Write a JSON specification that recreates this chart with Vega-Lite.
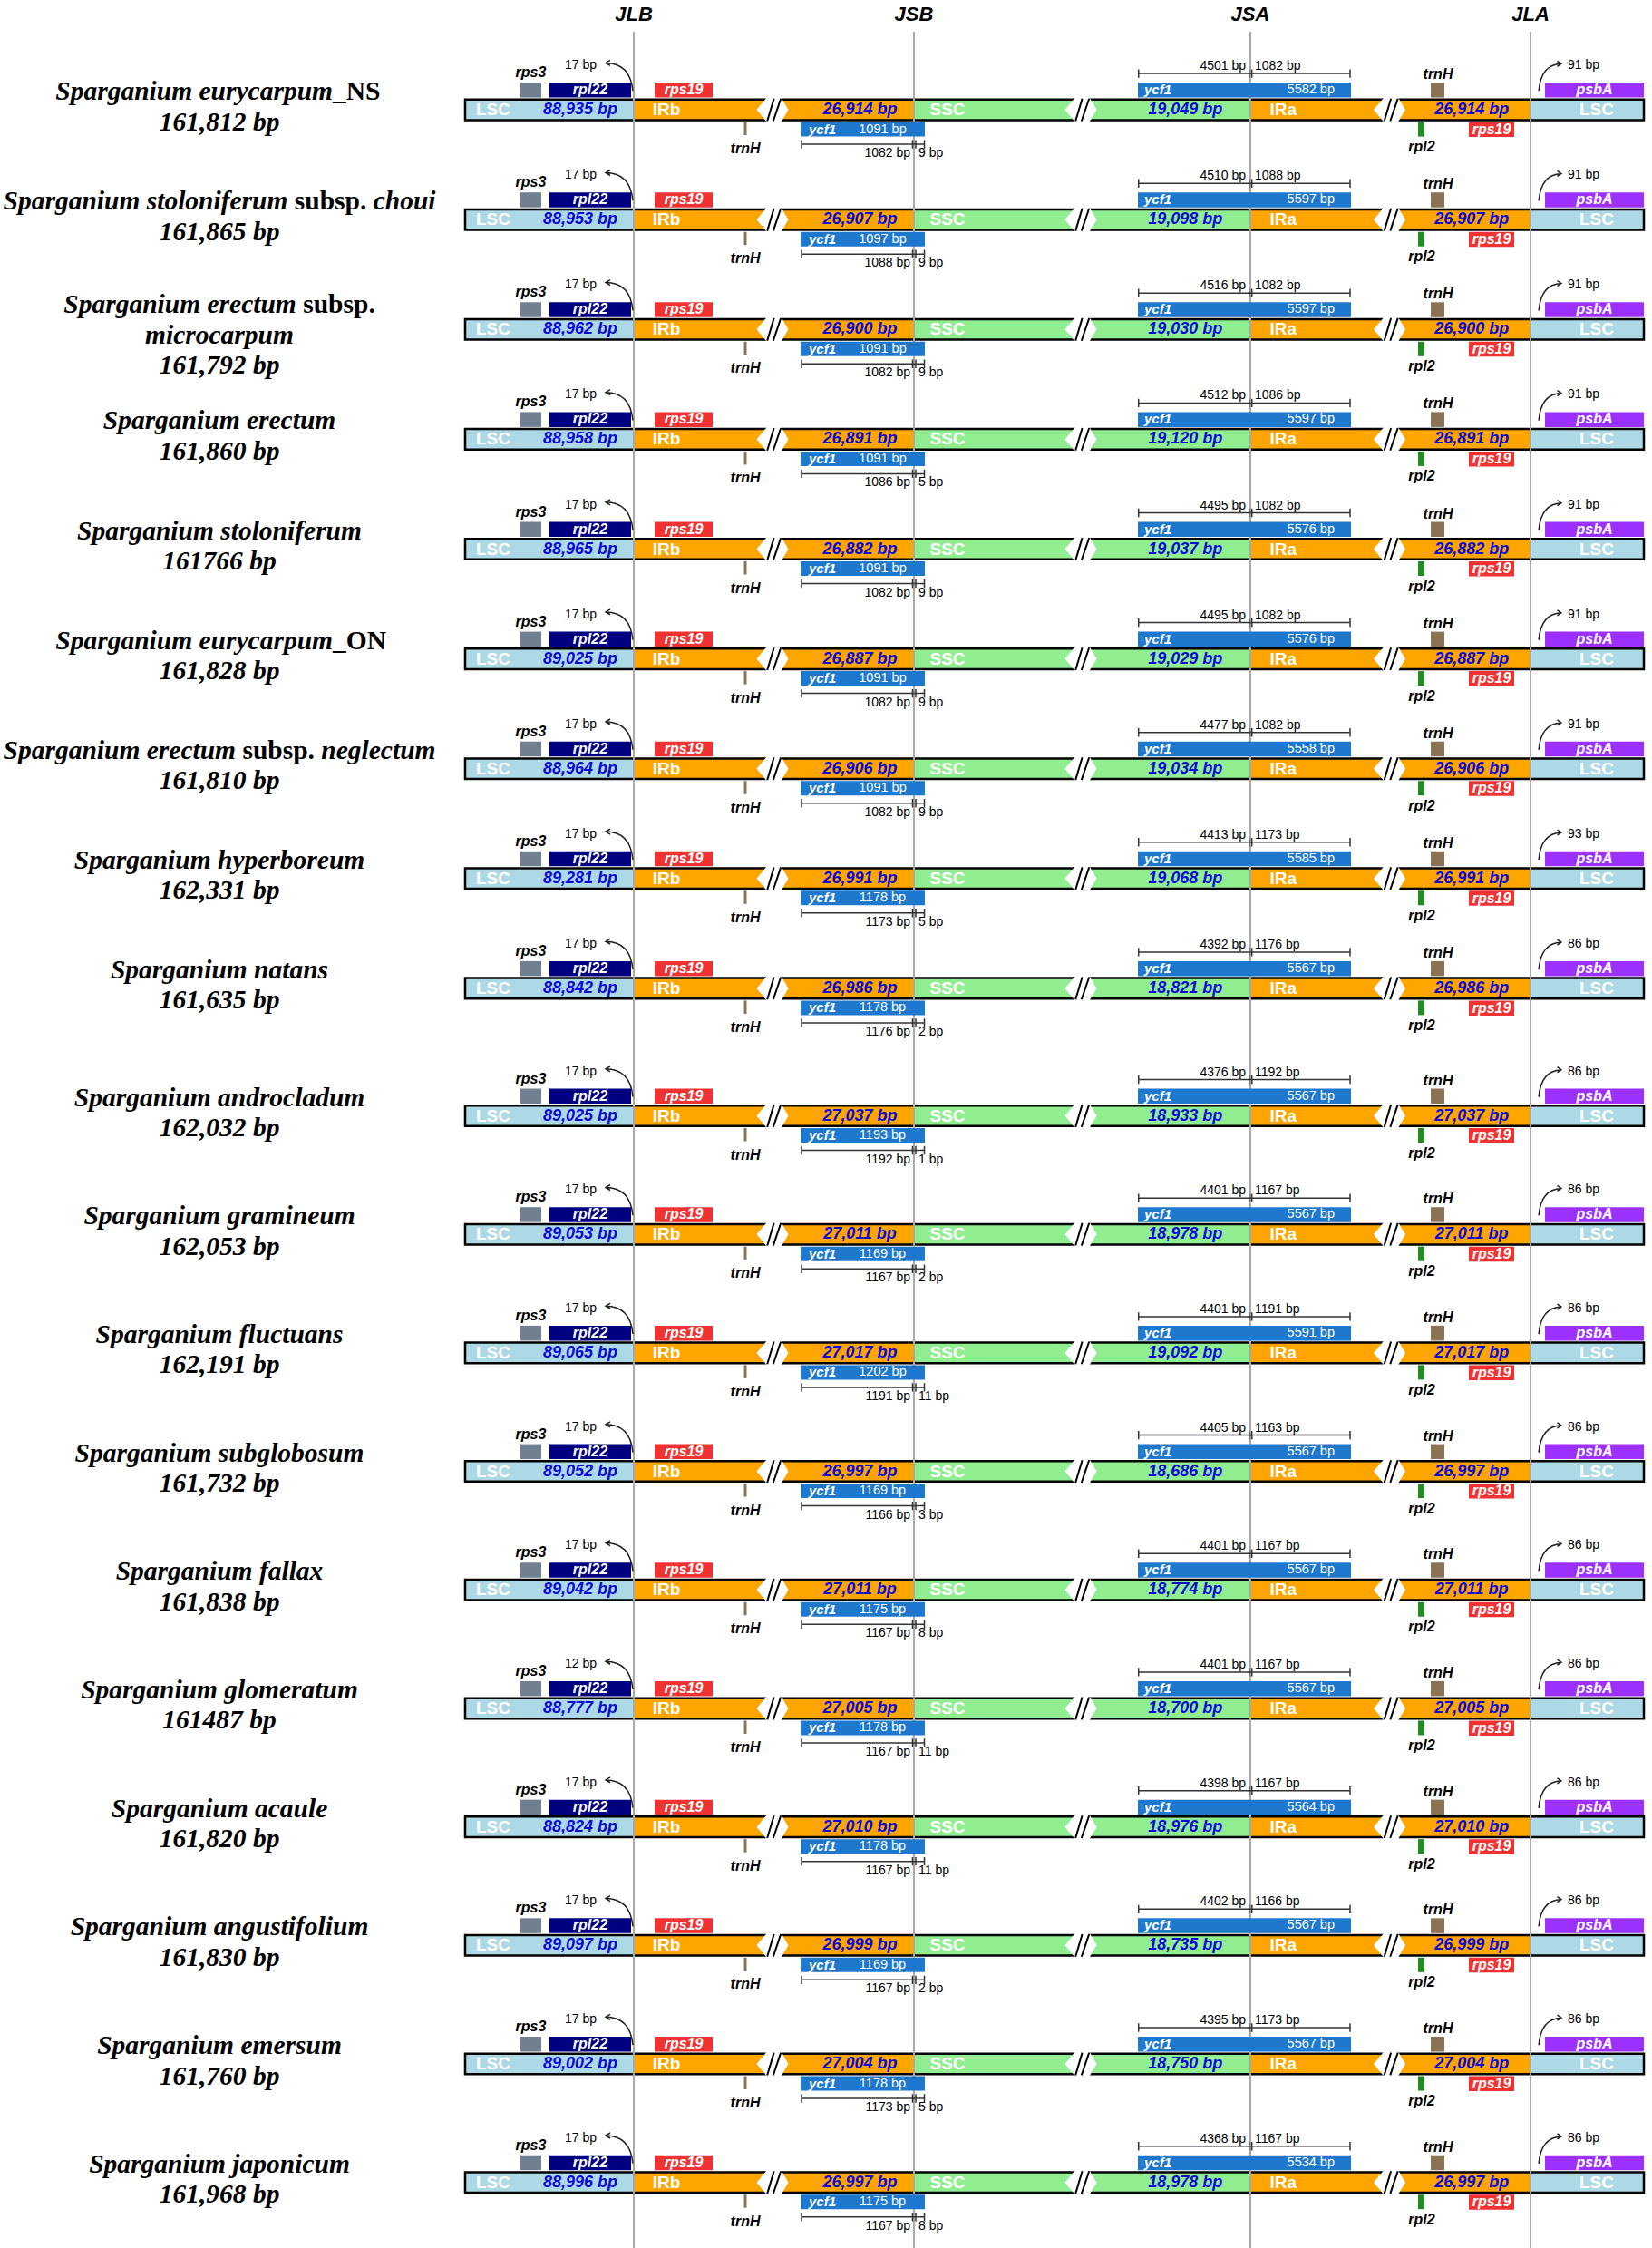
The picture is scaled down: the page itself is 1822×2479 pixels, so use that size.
{
"$schema":"https://vega.github.io/schema/vega-lite/v6.json",
"width":1822,"height":2479,"padding":0,"autosize":{"type":"none"},"background":"white",
"config":{"view":{"stroke":null}},
"datasets":{
"genomes":[
{"n":1,"taxon":"Sparganium eurycarpum","rank":"_NS","length":"161,812 bp","LSC":"88,935 bp","IR":"26,914 bp","SSC":"19,049 bp","rpl22gap":"17 bp","frag":"1091 bp","irb":"1082 bp","sscb":"9 bp","ssca":"4501 bp","ira":"1082 bp","ycf1":"5582 bp","psbAgap":"91 bp"},
{"n":2,"taxon":"Sparganium stoloniferum","rank":"subsp.","infra":"choui","length":"161,865 bp","LSC":"88,953 bp","IR":"26,907 bp","SSC":"19,098 bp","rpl22gap":"17 bp","frag":"1097 bp","irb":"1088 bp","sscb":"9 bp","ssca":"4510 bp","ira":"1088 bp","ycf1":"5597 bp","psbAgap":"91 bp"},
{"n":3,"taxon":"Sparganium erectum","rank":"subsp.","infra":"microcarpum","length":"161,792 bp","LSC":"88,962 bp","IR":"26,900 bp","SSC":"19,030 bp","rpl22gap":"17 bp","frag":"1091 bp","irb":"1082 bp","sscb":"9 bp","ssca":"4516 bp","ira":"1082 bp","ycf1":"5597 bp","psbAgap":"91 bp"},
{"n":4,"taxon":"Sparganium erectum","length":"161,860 bp","LSC":"88,958 bp","IR":"26,891 bp","SSC":"19,120 bp","rpl22gap":"17 bp","frag":"1091 bp","irb":"1086 bp","sscb":"5 bp","ssca":"4512 bp","ira":"1086 bp","ycf1":"5597 bp","psbAgap":"91 bp"},
{"n":5,"taxon":"Sparganium stoloniferum","length":"161766 bp","LSC":"88,965 bp","IR":"26,882 bp","SSC":"19,037 bp","rpl22gap":"17 bp","frag":"1091 bp","irb":"1082 bp","sscb":"9 bp","ssca":"4495 bp","ira":"1082 bp","ycf1":"5576 bp","psbAgap":"91 bp"},
{"n":6,"taxon":"Sparganium eurycarpum","rank":"_ON","length":"161,828 bp","LSC":"89,025 bp","IR":"26,887 bp","SSC":"19,029 bp","rpl22gap":"17 bp","frag":"1091 bp","irb":"1082 bp","sscb":"9 bp","ssca":"4495 bp","ira":"1082 bp","ycf1":"5576 bp","psbAgap":"91 bp"},
{"n":7,"taxon":"Sparganium erectum","rank":"subsp.","infra":"neglectum","length":"161,810 bp","LSC":"88,964 bp","IR":"26,906 bp","SSC":"19,034 bp","rpl22gap":"17 bp","frag":"1091 bp","irb":"1082 bp","sscb":"9 bp","ssca":"4477 bp","ira":"1082 bp","ycf1":"5558 bp","psbAgap":"91 bp"},
{"n":8,"taxon":"Sparganium hyperboreum","length":"162,331 bp","LSC":"89,281 bp","IR":"26,991 bp","SSC":"19,068 bp","rpl22gap":"17 bp","frag":"1178 bp","irb":"1173 bp","sscb":"5 bp","ssca":"4413 bp","ira":"1173 bp","ycf1":"5585 bp","psbAgap":"93 bp"},
{"n":9,"taxon":"Sparganium natans","length":"161,635 bp","LSC":"88,842 bp","IR":"26,986 bp","SSC":"18,821 bp","rpl22gap":"17 bp","frag":"1178 bp","irb":"1176 bp","sscb":"2 bp","ssca":"4392 bp","ira":"1176 bp","ycf1":"5567 bp","psbAgap":"86 bp"},
{"n":10,"taxon":"Sparganium androcladum","length":"162,032 bp","LSC":"89,025 bp","IR":"27,037 bp","SSC":"18,933 bp","rpl22gap":"17 bp","frag":"1193 bp","irb":"1192 bp","sscb":"1 bp","ssca":"4376 bp","ira":"1192 bp","ycf1":"5567 bp","psbAgap":"86 bp"},
{"n":11,"taxon":"Sparganium gramineum","length":"162,053 bp","LSC":"89,053 bp","IR":"27,011 bp","SSC":"18,978 bp","rpl22gap":"17 bp","frag":"1169 bp","irb":"1167 bp","sscb":"2 bp","ssca":"4401 bp","ira":"1167 bp","ycf1":"5567 bp","psbAgap":"86 bp"},
{"n":12,"taxon":"Sparganium fluctuans","length":"162,191 bp","LSC":"89,065 bp","IR":"27,017 bp","SSC":"19,092 bp","rpl22gap":"17 bp","frag":"1202 bp","irb":"1191 bp","sscb":"11 bp","ssca":"4401 bp","ira":"1191 bp","ycf1":"5591 bp","psbAgap":"86 bp"},
{"n":13,"taxon":"Sparganium subglobosum","length":"161,732 bp","LSC":"89,052 bp","IR":"26,997 bp","SSC":"18,686 bp","rpl22gap":"17 bp","frag":"1169 bp","irb":"1166 bp","sscb":"3 bp","ssca":"4405 bp","ira":"1163 bp","ycf1":"5567 bp","psbAgap":"86 bp"},
{"n":14,"taxon":"Sparganium fallax","length":"161,838 bp","LSC":"89,042 bp","IR":"27,011 bp","SSC":"18,774 bp","rpl22gap":"17 bp","frag":"1175 bp","irb":"1167 bp","sscb":"8 bp","ssca":"4401 bp","ira":"1167 bp","ycf1":"5567 bp","psbAgap":"86 bp"},
{"n":15,"taxon":"Sparganium glomeratum","length":"161487 bp","LSC":"88,777 bp","IR":"27,005 bp","SSC":"18,700 bp","rpl22gap":"12 bp","frag":"1178 bp","irb":"1167 bp","sscb":"11 bp","ssca":"4401 bp","ira":"1167 bp","ycf1":"5567 bp","psbAgap":"86 bp"},
{"n":16,"taxon":"Sparganium acaule","length":"161,820 bp","LSC":"88,824 bp","IR":"27,010 bp","SSC":"18,976 bp","rpl22gap":"17 bp","frag":"1178 bp","irb":"1167 bp","sscb":"11 bp","ssca":"4398 bp","ira":"1167 bp","ycf1":"5564 bp","psbAgap":"86 bp"},
{"n":17,"taxon":"Sparganium angustifolium","length":"161,830 bp","LSC":"89,097 bp","IR":"26,999 bp","SSC":"18,735 bp","rpl22gap":"17 bp","frag":"1169 bp","irb":"1167 bp","sscb":"2 bp","ssca":"4402 bp","ira":"1166 bp","ycf1":"5567 bp","psbAgap":"86 bp"},
{"n":18,"taxon":"Sparganium emersum","length":"161,760 bp","LSC":"89,002 bp","IR":"27,004 bp","SSC":"18,750 bp","rpl22gap":"17 bp","frag":"1178 bp","irb":"1173 bp","sscb":"5 bp","ssca":"4395 bp","ira":"1173 bp","ycf1":"5567 bp","psbAgap":"86 bp"},
{"n":19,"taxon":"Sparganium japonicum","length":"161,968 bp","LSC":"88,996 bp","IR":"26,997 bp","SSC":"18,978 bp","rpl22gap":"17 bp","frag":"1175 bp","irb":"1167 bp","sscb":"8 bp","ssca":"4368 bp","ira":"1167 bp","ycf1":"5534 bp","psbAgap":"86 bp"}
],
"junctions":[{"junction":"JLB","pos":14.308},{"junction":"JSB","pos":38.077},{"junction":"JSA","pos":66.615},{"junction":"JLA","pos":90.385}]
},
"data":{"name":"genomes"},
"layer":[
{"mark":{"type":"rect","fill":"#add8e6","yOffset":-11.3,"y2Offset":11.3},"encoding":{"x":{"datum":0,"type":"quantitative","scale":{"domain":[0,100],"range":[513,1813],"nice":false,"zero":false},"axis":null},"x2":{"datum":14.308},"y":{"field":"n","type":"quantitative","scale":{"domain":[0,9,10,19,19.55],"range":[0,1089.9,1230.5,2406.7,2479],"nice":false,"zero":false},"axis":null},"y2":{"field":"n"}}},
{"mark":{"type":"rect","fill":"#ffa500","yOffset":-11.3,"y2Offset":11.3},"encoding":{"x":{"datum":14.308,"type":"quantitative","scale":{"domain":[0,100],"range":[513,1813],"nice":false,"zero":false},"axis":null},"x2":{"datum":38.077},"y":{"field":"n","type":"quantitative","scale":{"domain":[0,9,10,19,19.55],"range":[0,1089.9,1230.5,2406.7,2479],"nice":false,"zero":false},"axis":null},"y2":{"field":"n"}}},
{"mark":{"type":"rect","fill":"#90ee90","yOffset":-11.3,"y2Offset":11.3},"encoding":{"x":{"datum":38.077,"type":"quantitative","scale":{"domain":[0,100],"range":[513,1813],"nice":false,"zero":false},"axis":null},"x2":{"datum":66.615},"y":{"field":"n","type":"quantitative","scale":{"domain":[0,9,10,19,19.55],"range":[0,1089.9,1230.5,2406.7,2479],"nice":false,"zero":false},"axis":null},"y2":{"field":"n"}}},
{"mark":{"type":"rect","fill":"#ffa500","yOffset":-11.3,"y2Offset":11.3},"encoding":{"x":{"datum":66.615,"type":"quantitative","scale":{"domain":[0,100],"range":[513,1813],"nice":false,"zero":false},"axis":null},"x2":{"datum":90.385},"y":{"field":"n","type":"quantitative","scale":{"domain":[0,9,10,19,19.55],"range":[0,1089.9,1230.5,2406.7,2479],"nice":false,"zero":false},"axis":null},"y2":{"field":"n"}}},
{"mark":{"type":"rect","fill":"#add8e6","yOffset":-11.3,"y2Offset":11.3},"encoding":{"x":{"datum":90.385,"type":"quantitative","scale":{"domain":[0,100],"range":[513,1813],"nice":false,"zero":false},"axis":null},"x2":{"datum":100},"y":{"field":"n","type":"quantitative","scale":{"domain":[0,9,10,19,19.55],"range":[0,1089.9,1230.5,2406.7,2479],"nice":false,"zero":false},"axis":null},"y2":{"field":"n"}}},
{"mark":{"type":"rect","fill":"transparent","stroke":"black","strokeWidth":2.5,"yOffset":-11.3,"y2Offset":11.3},"encoding":{"x":{"datum":0,"type":"quantitative","scale":{"domain":[0,100],"range":[513,1813],"nice":false,"zero":false},"axis":null},"x2":{"datum":100},"y":{"field":"n","type":"quantitative","scale":{"domain":[0,9,10,19,19.55],"range":[0,1089.9,1230.5,2406.7,2479],"nice":false,"zero":false},"axis":null},"y2":{"field":"n"}}},
{"mark":{"type":"point","shape":"M-0.875,0L-0.29,-0.7L0.46,-0.7L0.875,0L0.46,0.7L-0.29,0.7Z","size":1600,"filled":true,"fill":"white","strokeWidth":0,"opacity":1},"encoding":{"x":{"datum":26.077,"type":"quantitative","scale":{"domain":[0,100],"range":[513,1813],"nice":false,"zero":false},"axis":null},"y":{"field":"n","type":"quantitative","scale":{"domain":[0,9,10,19,19.55],"range":[0,1089.9,1230.5,2406.7,2479],"nice":false,"zero":false},"axis":null}}},
{"mark":{"type":"point","shape":"M-0.875,0L-0.29,-0.7L0.46,-0.7L0.875,0L0.46,0.7L-0.29,0.7Z","size":1600,"filled":true,"fill":"white","strokeWidth":0,"opacity":1},"encoding":{"x":{"datum":52.231,"type":"quantitative","scale":{"domain":[0,100],"range":[513,1813],"nice":false,"zero":false},"axis":null},"y":{"field":"n","type":"quantitative","scale":{"domain":[0,9,10,19,19.55],"range":[0,1089.9,1230.5,2406.7,2479],"nice":false,"zero":false},"axis":null}}},
{"mark":{"type":"point","shape":"M-0.875,0L-0.29,-0.7L0.46,-0.7L0.875,0L0.46,0.7L-0.29,0.7Z","size":1600,"filled":true,"fill":"white","strokeWidth":0,"opacity":1},"encoding":{"x":{"datum":78.423,"type":"quantitative","scale":{"domain":[0,100],"range":[513,1813],"nice":false,"zero":false},"axis":null},"y":{"field":"n","type":"quantitative","scale":{"domain":[0,9,10,19,19.55],"range":[0,1089.9,1230.5,2406.7,2479],"nice":false,"zero":false},"axis":null}}},
{"mark":{"type":"point","shape":"M-0.29,0.62L0.08,-0.62M0.04,0.62L0.46,-0.62","size":1600,"filled":false,"stroke":"black","strokeWidth":2,"opacity":1},"encoding":{"x":{"datum":26.077,"type":"quantitative","scale":{"domain":[0,100],"range":[513,1813],"nice":false,"zero":false},"axis":null},"y":{"field":"n","type":"quantitative","scale":{"domain":[0,9,10,19,19.55],"range":[0,1089.9,1230.5,2406.7,2479],"nice":false,"zero":false},"axis":null}}},
{"mark":{"type":"point","shape":"M-0.29,0.62L0.08,-0.62M0.04,0.62L0.46,-0.62","size":1600,"filled":false,"stroke":"black","strokeWidth":2,"opacity":1},"encoding":{"x":{"datum":52.231,"type":"quantitative","scale":{"domain":[0,100],"range":[513,1813],"nice":false,"zero":false},"axis":null},"y":{"field":"n","type":"quantitative","scale":{"domain":[0,9,10,19,19.55],"range":[0,1089.9,1230.5,2406.7,2479],"nice":false,"zero":false},"axis":null}}},
{"mark":{"type":"point","shape":"M-0.29,0.62L0.08,-0.62M0.04,0.62L0.46,-0.62","size":1600,"filled":false,"stroke":"black","strokeWidth":2,"opacity":1},"encoding":{"x":{"datum":78.423,"type":"quantitative","scale":{"domain":[0,100],"range":[513,1813],"nice":false,"zero":false},"axis":null},"y":{"field":"n","type":"quantitative","scale":{"domain":[0,9,10,19,19.55],"range":[0,1089.9,1230.5,2406.7,2479],"nice":false,"zero":false},"axis":null}}},
{"data":{"name":"junctions"},"mark":{"type":"rule","color":"#a9a9a9","strokeWidth":2,"yOffset":35},"encoding":{"x":{"field":"pos","type":"quantitative","scale":{"domain":[0,100],"range":[513,1813],"nice":false,"zero":false},"axis":null},"y":{"datum":0,"type":"quantitative","scale":{"domain":[0,9,10,19,19.55],"range":[0,1089.9,1230.5,2406.7,2479],"nice":false,"zero":false},"axis":null},"y2":{"datum":19.55}}},
{"data":{"name":"junctions"},"mark":{"type":"text","font":"Liberation Sans","fontWeight":"bold","fontStyle":"italic","fontSize":22,"color":"black","align":"center","baseline":"middle","yOffset":16},"encoding":{"x":{"field":"pos","type":"quantitative","scale":{"domain":[0,100],"range":[513,1813],"nice":false,"zero":false},"axis":null},"y":{"datum":0,"type":"quantitative","scale":{"domain":[0,9,10,19,19.55],"range":[0,1089.9,1230.5,2406.7,2479],"nice":false,"zero":false},"axis":null},"text":{"field":"junction"}}},
{"mark":{"type":"rect","fill":"#708090","yOffset":-30,"y2Offset":-13.5},"encoding":{"x":{"datum":4.692,"type":"quantitative","scale":{"domain":[0,100],"range":[513,1813],"nice":false,"zero":false},"axis":null},"x2":{"datum":6.462},"y":{"field":"n","type":"quantitative","scale":{"domain":[0,9,10,19,19.55],"range":[0,1089.9,1230.5,2406.7,2479],"nice":false,"zero":false},"axis":null},"y2":{"field":"n"}}},
{"mark":{"type":"rect","fill":"#000080","yOffset":-30,"y2Offset":-13.5},"encoding":{"x":{"datum":7.154,"type":"quantitative","scale":{"domain":[0,100],"range":[513,1813],"nice":false,"zero":false},"axis":null},"x2":{"datum":14.077},"y":{"field":"n","type":"quantitative","scale":{"domain":[0,9,10,19,19.55],"range":[0,1089.9,1230.5,2406.7,2479],"nice":false,"zero":false},"axis":null},"y2":{"field":"n"}}},
{"mark":{"type":"rect","fill":"#f03232","yOffset":-30,"y2Offset":-13.5},"encoding":{"x":{"datum":16.077,"type":"quantitative","scale":{"domain":[0,100],"range":[513,1813],"nice":false,"zero":false},"axis":null},"x2":{"datum":21.0},"y":{"field":"n","type":"quantitative","scale":{"domain":[0,9,10,19,19.55],"range":[0,1089.9,1230.5,2406.7,2479],"nice":false,"zero":false},"axis":null},"y2":{"field":"n"}}},
{"mark":{"type":"rect","fill":"#1e78cd","yOffset":-30,"y2Offset":-13.5},"encoding":{"x":{"datum":57.077,"type":"quantitative","scale":{"domain":[0,100],"range":[513,1813],"nice":false,"zero":false},"axis":null},"x2":{"datum":75.154},"y":{"field":"n","type":"quantitative","scale":{"domain":[0,9,10,19,19.55],"range":[0,1089.9,1230.5,2406.7,2479],"nice":false,"zero":false},"axis":null},"y2":{"field":"n"}}},
{"mark":{"type":"rect","fill":"#8b7355","yOffset":-30,"y2Offset":-13.5},"encoding":{"x":{"datum":81.923,"type":"quantitative","scale":{"domain":[0,100],"range":[513,1813],"nice":false,"zero":false},"axis":null},"x2":{"datum":83.077},"y":{"field":"n","type":"quantitative","scale":{"domain":[0,9,10,19,19.55],"range":[0,1089.9,1230.5,2406.7,2479],"nice":false,"zero":false},"axis":null},"y2":{"field":"n"}}},
{"mark":{"type":"rect","fill":"#9b30ff","yOffset":-30,"y2Offset":-13.5},"encoding":{"x":{"datum":91.615,"type":"quantitative","scale":{"domain":[0,100],"range":[513,1813],"nice":false,"zero":false},"axis":null},"x2":{"datum":100},"y":{"field":"n","type":"quantitative","scale":{"domain":[0,9,10,19,19.55],"range":[0,1089.9,1230.5,2406.7,2479],"nice":false,"zero":false},"axis":null},"y2":{"field":"n"}}},
{"mark":{"type":"rect","fill":"#1e78cd","yOffset":13.5,"y2Offset":29.5},"encoding":{"x":{"datum":28.462,"type":"quantitative","scale":{"domain":[0,100],"range":[513,1813],"nice":false,"zero":false},"axis":null},"x2":{"datum":39.0},"y":{"field":"n","type":"quantitative","scale":{"domain":[0,9,10,19,19.55],"range":[0,1089.9,1230.5,2406.7,2479],"nice":false,"zero":false},"axis":null},"y2":{"field":"n"}}},
{"mark":{"type":"rect","fill":"#228b22","yOffset":13.5,"y2Offset":29.5},"encoding":{"x":{"datum":80.846,"type":"quantitative","scale":{"domain":[0,100],"range":[513,1813],"nice":false,"zero":false},"axis":null},"x2":{"datum":81.385},"y":{"field":"n","type":"quantitative","scale":{"domain":[0,9,10,19,19.55],"range":[0,1089.9,1230.5,2406.7,2479],"nice":false,"zero":false},"axis":null},"y2":{"field":"n"}}},
{"mark":{"type":"rect","fill":"#f03232","yOffset":13.5,"y2Offset":30},"encoding":{"x":{"datum":85.154,"type":"quantitative","scale":{"domain":[0,100],"range":[513,1813],"nice":false,"zero":false},"axis":null},"x2":{"datum":89.0},"y":{"field":"n","type":"quantitative","scale":{"domain":[0,9,10,19,19.55],"range":[0,1089.9,1230.5,2406.7,2479],"nice":false,"zero":false},"axis":null},"y2":{"field":"n"}}},
{"mark":{"type":"rule","color":"#8b7355","strokeWidth":3,"yOffset":13.5,"y2Offset":28},"encoding":{"x":{"datum":23.769,"type":"quantitative","scale":{"domain":[0,100],"range":[513,1813],"nice":false,"zero":false},"axis":null},"y":{"field":"n","type":"quantitative","scale":{"domain":[0,9,10,19,19.55],"range":[0,1089.9,1230.5,2406.7,2479],"nice":false,"zero":false},"axis":null},"y2":{"field":"n"}}},
{"mark":{"type":"text","font":"Liberation Sans","fontWeight":"bold","fontSize":19,"color":"white","align":"center","baseline":"middle"},"encoding":{"x":{"datum":2.385,"type":"quantitative","scale":{"domain":[0,100],"range":[513,1813],"nice":false,"zero":false},"axis":null},"y":{"field":"n","type":"quantitative","scale":{"domain":[0,9,10,19,19.55],"range":[0,1089.9,1230.5,2406.7,2479],"nice":false,"zero":false},"axis":null},"text":{"value":"LSC"}}},
{"mark":{"type":"text","font":"Liberation Sans","fontWeight":"bold","fontStyle":"italic","fontSize":18,"color":"#0a0ad8","align":"center","baseline":"middle"},"encoding":{"x":{"datum":9.769,"type":"quantitative","scale":{"domain":[0,100],"range":[513,1813],"nice":false,"zero":false},"axis":null},"y":{"field":"n","type":"quantitative","scale":{"domain":[0,9,10,19,19.55],"range":[0,1089.9,1230.5,2406.7,2479],"nice":false,"zero":false},"axis":null},"text":{"field":"LSC"}}},
{"mark":{"type":"text","font":"Liberation Sans","fontWeight":"bold","fontSize":19,"color":"white","align":"center","baseline":"middle"},"encoding":{"x":{"datum":17.077,"type":"quantitative","scale":{"domain":[0,100],"range":[513,1813],"nice":false,"zero":false},"axis":null},"y":{"field":"n","type":"quantitative","scale":{"domain":[0,9,10,19,19.55],"range":[0,1089.9,1230.5,2406.7,2479],"nice":false,"zero":false},"axis":null},"text":{"value":"IRb"}}},
{"mark":{"type":"text","font":"Liberation Sans","fontWeight":"bold","fontStyle":"italic","fontSize":18,"color":"#0a0ad8","align":"center","baseline":"middle"},"encoding":{"x":{"datum":33.5,"type":"quantitative","scale":{"domain":[0,100],"range":[513,1813],"nice":false,"zero":false},"axis":null},"y":{"field":"n","type":"quantitative","scale":{"domain":[0,9,10,19,19.55],"range":[0,1089.9,1230.5,2406.7,2479],"nice":false,"zero":false},"axis":null},"text":{"field":"IR"}}},
{"mark":{"type":"text","font":"Liberation Sans","fontWeight":"bold","fontSize":19,"color":"white","align":"center","baseline":"middle"},"encoding":{"x":{"datum":40.923,"type":"quantitative","scale":{"domain":[0,100],"range":[513,1813],"nice":false,"zero":false},"axis":null},"y":{"field":"n","type":"quantitative","scale":{"domain":[0,9,10,19,19.55],"range":[0,1089.9,1230.5,2406.7,2479],"nice":false,"zero":false},"axis":null},"text":{"value":"SSC"}}},
{"mark":{"type":"text","font":"Liberation Sans","fontWeight":"bold","fontStyle":"italic","fontSize":18,"color":"#0a0ad8","align":"center","baseline":"middle"},"encoding":{"x":{"datum":61.1,"type":"quantitative","scale":{"domain":[0,100],"range":[513,1813],"nice":false,"zero":false},"axis":null},"y":{"field":"n","type":"quantitative","scale":{"domain":[0,9,10,19,19.55],"range":[0,1089.9,1230.5,2406.7,2479],"nice":false,"zero":false},"axis":null},"text":{"field":"SSC"}}},
{"mark":{"type":"text","font":"Liberation Sans","fontWeight":"bold","fontSize":19,"color":"white","align":"center","baseline":"middle"},"encoding":{"x":{"datum":69.4,"type":"quantitative","scale":{"domain":[0,100],"range":[513,1813],"nice":false,"zero":false},"axis":null},"y":{"field":"n","type":"quantitative","scale":{"domain":[0,9,10,19,19.55],"range":[0,1089.9,1230.5,2406.7,2479],"nice":false,"zero":false},"axis":null},"text":{"value":"IRa"}}},
{"mark":{"type":"text","font":"Liberation Sans","fontWeight":"bold","fontStyle":"italic","fontSize":18,"color":"#0a0ad8","align":"center","baseline":"middle"},"encoding":{"x":{"datum":85.4,"type":"quantitative","scale":{"domain":[0,100],"range":[513,1813],"nice":false,"zero":false},"axis":null},"y":{"field":"n","type":"quantitative","scale":{"domain":[0,9,10,19,19.55],"range":[0,1089.9,1230.5,2406.7,2479],"nice":false,"zero":false},"axis":null},"text":{"field":"IR"}}},
{"mark":{"type":"text","font":"Liberation Sans","fontWeight":"bold","fontSize":19,"color":"white","align":"center","baseline":"middle"},"encoding":{"x":{"datum":96.0,"type":"quantitative","scale":{"domain":[0,100],"range":[513,1813],"nice":false,"zero":false},"axis":null},"y":{"field":"n","type":"quantitative","scale":{"domain":[0,9,10,19,19.55],"range":[0,1089.9,1230.5,2406.7,2479],"nice":false,"zero":false},"axis":null},"text":{"value":"LSC"}}},
{"mark":{"type":"text","font":"Liberation Sans","fontWeight":"bold","fontStyle":"italic","fontSize":16,"color":"black","align":"center","baseline":"middle","yOffset":-41},"encoding":{"x":{"datum":5.577,"type":"quantitative","scale":{"domain":[0,100],"range":[513,1813],"nice":false,"zero":false},"axis":null},"y":{"field":"n","type":"quantitative","scale":{"domain":[0,9,10,19,19.55],"range":[0,1089.9,1230.5,2406.7,2479],"nice":false,"zero":false},"axis":null},"text":{"value":"rps3"}}},
{"mark":{"type":"text","font":"Liberation Sans","fontWeight":"bold","fontStyle":"italic","fontSize":16,"color":"white","align":"center","baseline":"middle","yOffset":-22},"encoding":{"x":{"datum":10.615,"type":"quantitative","scale":{"domain":[0,100],"range":[513,1813],"nice":false,"zero":false},"axis":null},"y":{"field":"n","type":"quantitative","scale":{"domain":[0,9,10,19,19.55],"range":[0,1089.9,1230.5,2406.7,2479],"nice":false,"zero":false},"axis":null},"text":{"value":"rpl22"}}},
{"mark":{"type":"text","font":"Liberation Sans","fontWeight":"bold","fontStyle":"italic","fontSize":16,"color":"white","align":"center","baseline":"middle","yOffset":-22},"encoding":{"x":{"datum":18.538,"type":"quantitative","scale":{"domain":[0,100],"range":[513,1813],"nice":false,"zero":false},"axis":null},"y":{"field":"n","type":"quantitative","scale":{"domain":[0,9,10,19,19.55],"range":[0,1089.9,1230.5,2406.7,2479],"nice":false,"zero":false},"axis":null},"text":{"value":"rps19"}}},
{"mark":{"type":"text","font":"Liberation Sans","fontWeight":"bold","fontStyle":"italic","fontSize":16,"color":"black","align":"center","baseline":"middle","yOffset":43},"encoding":{"x":{"datum":23.77,"type":"quantitative","scale":{"domain":[0,100],"range":[513,1813],"nice":false,"zero":false},"axis":null},"y":{"field":"n","type":"quantitative","scale":{"domain":[0,9,10,19,19.55],"range":[0,1089.9,1230.5,2406.7,2479],"nice":false,"zero":false},"axis":null},"text":{"value":"trnH"}}},
{"mark":{"type":"text","font":"Liberation Sans","fontWeight":"bold","fontStyle":"italic","fontSize":15,"color":"white","align":"left","baseline":"middle","yOffset":21.5},"encoding":{"x":{"datum":29.154,"type":"quantitative","scale":{"domain":[0,100],"range":[513,1813],"nice":false,"zero":false},"axis":null},"y":{"field":"n","type":"quantitative","scale":{"domain":[0,9,10,19,19.55],"range":[0,1089.9,1230.5,2406.7,2479],"nice":false,"zero":false},"axis":null},"text":{"value":"ycf1"}}},
{"mark":{"type":"text","font":"Liberation Sans","fontSize":14.5,"color":"white","align":"center","baseline":"middle","yOffset":21.5},"encoding":{"x":{"datum":35.423,"type":"quantitative","scale":{"domain":[0,100],"range":[513,1813],"nice":false,"zero":false},"axis":null},"y":{"field":"n","type":"quantitative","scale":{"domain":[0,9,10,19,19.55],"range":[0,1089.9,1230.5,2406.7,2479],"nice":false,"zero":false},"axis":null},"text":{"field":"frag"}}},
{"mark":{"type":"text","font":"Liberation Sans","fontWeight":"bold","fontStyle":"italic","fontSize":15,"color":"white","align":"left","baseline":"middle","yOffset":-22},"encoding":{"x":{"datum":57.615,"type":"quantitative","scale":{"domain":[0,100],"range":[513,1813],"nice":false,"zero":false},"axis":null},"y":{"field":"n","type":"quantitative","scale":{"domain":[0,9,10,19,19.55],"range":[0,1089.9,1230.5,2406.7,2479],"nice":false,"zero":false},"axis":null},"text":{"value":"ycf1"}}},
{"mark":{"type":"text","font":"Liberation Sans","fontSize":14.5,"color":"white","align":"right","baseline":"middle","yOffset":-22},"encoding":{"x":{"datum":73.769,"type":"quantitative","scale":{"domain":[0,100],"range":[513,1813],"nice":false,"zero":false},"axis":null},"y":{"field":"n","type":"quantitative","scale":{"domain":[0,9,10,19,19.55],"range":[0,1089.9,1230.5,2406.7,2479],"nice":false,"zero":false},"axis":null},"text":{"field":"ycf1"}}},
{"mark":{"type":"text","font":"Liberation Sans","fontWeight":"bold","fontStyle":"italic","fontSize":16,"color":"black","align":"center","baseline":"middle","yOffset":-39},"encoding":{"x":{"datum":82.538,"type":"quantitative","scale":{"domain":[0,100],"range":[513,1813],"nice":false,"zero":false},"axis":null},"y":{"field":"n","type":"quantitative","scale":{"domain":[0,9,10,19,19.55],"range":[0,1089.9,1230.5,2406.7,2479],"nice":false,"zero":false},"axis":null},"text":{"value":"trnH"}}},
{"mark":{"type":"text","font":"Liberation Sans","fontWeight":"bold","fontStyle":"italic","fontSize":16,"color":"black","align":"center","baseline":"middle","yOffset":41},"encoding":{"x":{"datum":81.154,"type":"quantitative","scale":{"domain":[0,100],"range":[513,1813],"nice":false,"zero":false},"axis":null},"y":{"field":"n","type":"quantitative","scale":{"domain":[0,9,10,19,19.55],"range":[0,1089.9,1230.5,2406.7,2479],"nice":false,"zero":false},"axis":null},"text":{"value":"rpl2"}}},
{"mark":{"type":"text","font":"Liberation Sans","fontWeight":"bold","fontStyle":"italic","fontSize":16,"color":"white","align":"center","baseline":"middle","yOffset":21.7},"encoding":{"x":{"datum":87.077,"type":"quantitative","scale":{"domain":[0,100],"range":[513,1813],"nice":false,"zero":false},"axis":null},"y":{"field":"n","type":"quantitative","scale":{"domain":[0,9,10,19,19.55],"range":[0,1089.9,1230.5,2406.7,2479],"nice":false,"zero":false},"axis":null},"text":{"value":"rps19"}}},
{"mark":{"type":"text","font":"Liberation Sans","fontWeight":"bold","fontStyle":"italic","fontSize":16,"color":"white","align":"center","baseline":"middle","yOffset":-22},"encoding":{"x":{"datum":95.808,"type":"quantitative","scale":{"domain":[0,100],"range":[513,1813],"nice":false,"zero":false},"axis":null},"y":{"field":"n","type":"quantitative","scale":{"domain":[0,9,10,19,19.55],"range":[0,1089.9,1230.5,2406.7,2479],"nice":false,"zero":false},"axis":null},"text":{"value":"psbA"}}},
{"mark":{"type":"point","shape":"M-0.75,-0.82Q0.6,-0.82 0.75,0.72M-0.5,-0.97L-0.75,-0.82L-0.5,-0.67","size":1600,"filled":false,"stroke":"#222222","strokeWidth":1.5,"opacity":1,"yOffset":-35.3},"encoding":{"x":{"datum":13.077,"type":"quantitative","scale":{"domain":[0,100],"range":[513,1813],"nice":false,"zero":false},"axis":null},"y":{"field":"n","type":"quantitative","scale":{"domain":[0,9,10,19,19.55],"range":[0,1089.9,1230.5,2406.7,2479],"nice":false,"zero":false},"axis":null}}},
{"mark":{"type":"text","font":"Liberation Sans","fontSize":14,"color":"black","align":"right","baseline":"middle","yOffset":-49},"encoding":{"x":{"datum":11.154,"type":"quantitative","scale":{"domain":[0,100],"range":[513,1813],"nice":false,"zero":false},"axis":null},"y":{"field":"n","type":"quantitative","scale":{"domain":[0,9,10,19,19.55],"range":[0,1089.9,1230.5,2406.7,2479],"nice":false,"zero":false},"axis":null},"text":{"field":"rpl22gap"}}},
{"mark":{"type":"point","shape":"M-0.62,0.75Q-0.5,-0.7 0.62,-0.75M0.4,-0.9L0.62,-0.75L0.4,-0.6","size":1600,"filled":false,"stroke":"#222222","strokeWidth":1.5,"opacity":1,"yOffset":-35.8},"encoding":{"x":{"datum":92.038,"type":"quantitative","scale":{"domain":[0,100],"range":[513,1813],"nice":false,"zero":false},"axis":null},"y":{"field":"n","type":"quantitative","scale":{"domain":[0,9,10,19,19.55],"range":[0,1089.9,1230.5,2406.7,2479],"nice":false,"zero":false},"axis":null}}},
{"mark":{"type":"text","font":"Liberation Sans","fontSize":14,"color":"black","align":"left","baseline":"middle","yOffset":-49},"encoding":{"x":{"datum":93.538,"type":"quantitative","scale":{"domain":[0,100],"range":[513,1813],"nice":false,"zero":false},"axis":null},"y":{"field":"n","type":"quantitative","scale":{"domain":[0,9,10,19,19.55],"range":[0,1089.9,1230.5,2406.7,2479],"nice":false,"zero":false},"axis":null},"text":{"field":"psbAgap"}}},
{"mark":{"type":"point","shape":"M-0.968,0H0.968M-0.968,-0.067V0.067M0.782,-0.067V0.067M0.832,-0.067V0.067M0.968,-0.067V0.067","size":19600,"filled":false,"stroke":"#333333","strokeWidth":1.5,"opacity":1,"yOffset":38},"encoding":{"x":{"datum":33.75,"type":"quantitative","scale":{"domain":[0,100],"range":[513,1813],"nice":false,"zero":false},"axis":null},"y":{"field":"n","type":"quantitative","scale":{"domain":[0,9,10,19,19.55],"range":[0,1089.9,1230.5,2406.7,2479],"nice":false,"zero":false},"axis":null}}},
{"mark":{"type":"text","font":"Liberation Sans","fontSize":14,"color":"black","align":"right","baseline":"middle","yOffset":48},"encoding":{"x":{"datum":37.769,"type":"quantitative","scale":{"domain":[0,100],"range":[513,1813],"nice":false,"zero":false},"axis":null},"y":{"field":"n","type":"quantitative","scale":{"domain":[0,9,10,19,19.55],"range":[0,1089.9,1230.5,2406.7,2479],"nice":false,"zero":false},"axis":null},"text":{"field":"irb"}}},
{"mark":{"type":"text","font":"Liberation Sans","fontSize":14,"color":"black","align":"left","baseline":"middle","yOffset":48},"encoding":{"x":{"datum":38.462,"type":"quantitative","scale":{"domain":[0,100],"range":[513,1813],"nice":false,"zero":false},"axis":null},"y":{"field":"n","type":"quantitative","scale":{"domain":[0,9,10,19,19.55],"range":[0,1089.9,1230.5,2406.7,2479],"nice":false,"zero":false},"axis":null},"text":{"field":"sscb"}}},
{"mark":{"type":"point","shape":"M-0.972,0H0.972M-0.972,-0.039V0.039M0.0446,-0.039V0.039M0.0696,-0.039V0.039M0.972,-0.039V0.039","size":57600,"filled":false,"stroke":"#333333","strokeWidth":1.5,"opacity":1,"yOffset":-40},"encoding":{"x":{"datum":66.104,"type":"quantitative","scale":{"domain":[0,100],"range":[513,1813],"nice":false,"zero":false},"axis":null},"y":{"field":"n","type":"quantitative","scale":{"domain":[0,9,10,19,19.55],"range":[0,1089.9,1230.5,2406.7,2479],"nice":false,"zero":false},"axis":null}}},
{"mark":{"type":"text","font":"Liberation Sans","fontSize":14,"color":"black","align":"right","baseline":"middle","yOffset":-48},"encoding":{"x":{"datum":66.231,"type":"quantitative","scale":{"domain":[0,100],"range":[513,1813],"nice":false,"zero":false},"axis":null},"y":{"field":"n","type":"quantitative","scale":{"domain":[0,9,10,19,19.55],"range":[0,1089.9,1230.5,2406.7,2479],"nice":false,"zero":false},"axis":null},"text":{"field":"ssca"}}},
{"mark":{"type":"text","font":"Liberation Sans","fontSize":14,"color":"black","align":"left","baseline":"middle","yOffset":-48},"encoding":{"x":{"datum":67.0,"type":"quantitative","scale":{"domain":[0,100],"range":[513,1813],"nice":false,"zero":false},"axis":null},"y":{"field":"n","type":"quantitative","scale":{"domain":[0,9,10,19,19.55],"range":[0,1089.9,1230.5,2406.7,2479],"nice":false,"zero":false},"axis":null},"text":{"field":"ira"}}},
{"transform":[{"filter":"!datum.rank"}],"mark":{"type":"text","font":"Liberation Serif","fontWeight":"bold","fontStyle":"italic","fontSize":29.5,"color":"black","align":"center","baseline":"middle","yOffset":-20},"encoding":{"x":{"datum":-20.846,"type":"quantitative","scale":{"domain":[0,100],"range":[513,1813],"nice":false,"zero":false},"axis":null},"y":{"field":"n","type":"quantitative","scale":{"domain":[0,9,10,19,19.55],"range":[0,1089.9,1230.5,2406.7,2479],"nice":false,"zero":false},"axis":null},"text":{"field":"taxon"}}},
{"transform":[{"filter":"datum.n != 3"}],"mark":{"type":"text","font":"Liberation Serif","fontWeight":"bold","fontStyle":"italic","fontSize":29.5,"color":"black","align":"center","baseline":"middle","yOffset":13.5},"encoding":{"x":{"datum":-20.846,"type":"quantitative","scale":{"domain":[0,100],"range":[513,1813],"nice":false,"zero":false},"axis":null},"y":{"field":"n","type":"quantitative","scale":{"domain":[0,9,10,19,19.55],"range":[0,1089.9,1230.5,2406.7,2479],"nice":false,"zero":false},"axis":null},"text":{"field":"length"}}},
{"transform":[{"filter":"datum.n == 3"}],"mark":{"type":"text","font":"Liberation Serif","fontWeight":"bold","fontStyle":"italic","fontSize":29.5,"color":"black","align":"center","baseline":"middle","yOffset":39.5},"encoding":{"x":{"datum":-20.846,"type":"quantitative","scale":{"domain":[0,100],"range":[513,1813],"nice":false,"zero":false},"axis":null},"y":{"field":"n","type":"quantitative","scale":{"domain":[0,9,10,19,19.55],"range":[0,1089.9,1230.5,2406.7,2479],"nice":false,"zero":false},"axis":null},"text":{"field":"length"}}},
{"transform":[{"filter":"datum.n == 1 || datum.n == 6"}],"mark":{"type":"text","font":"Liberation Serif","fontWeight":"bold","fontStyle":"italic","fontSize":29.5,"color":"black","align":"right","baseline":"middle","yOffset":-20,"dx":125},"encoding":{"x":{"datum":-20.846,"type":"quantitative","scale":{"domain":[0,100],"range":[513,1813],"nice":false,"zero":false},"axis":null},"y":{"field":"n","type":"quantitative","scale":{"domain":[0,9,10,19,19.55],"range":[0,1089.9,1230.5,2406.7,2479],"nice":false,"zero":false},"axis":null},"text":{"field":"taxon"}}},
{"transform":[{"filter":"datum.n == 1 || datum.n == 6"}],"mark":{"type":"text","font":"Liberation Serif","fontWeight":"bold","fontStyle":"normal","fontSize":29.5,"color":"black","align":"left","baseline":"middle","yOffset":-20,"dx":125},"encoding":{"x":{"datum":-20.846,"type":"quantitative","scale":{"domain":[0,100],"range":[513,1813],"nice":false,"zero":false},"axis":null},"y":{"field":"n","type":"quantitative","scale":{"domain":[0,9,10,19,19.55],"range":[0,1089.9,1230.5,2406.7,2479],"nice":false,"zero":false},"axis":null},"text":{"field":"rank"}}},
{"transform":[{"filter":"datum.n == 2 || datum.n == 7"}],"mark":{"type":"text","font":"Liberation Serif","fontWeight":"bold","fontStyle":"italic","fontSize":29.5,"color":"black","align":"left","baseline":"middle","yOffset":-20,"dx":-238.5},"encoding":{"x":{"datum":-20.846,"type":"quantitative","scale":{"domain":[0,100],"range":[513,1813],"nice":false,"zero":false},"axis":null},"y":{"field":"n","type":"quantitative","scale":{"domain":[0,9,10,19,19.55],"range":[0,1089.9,1230.5,2406.7,2479],"nice":false,"zero":false},"axis":null},"text":{"field":"taxon"}}},
{"transform":[{"filter":"datum.n == 2 || datum.n == 7"}],"mark":{"type":"text","font":"Liberation Serif","fontWeight":"bold","fontStyle":"italic","fontSize":29.5,"color":"black","align":"right","baseline":"middle","yOffset":-20,"dx":238.5},"encoding":{"x":{"datum":-20.846,"type":"quantitative","scale":{"domain":[0,100],"range":[513,1813],"nice":false,"zero":false},"axis":null},"y":{"field":"n","type":"quantitative","scale":{"domain":[0,9,10,19,19.55],"range":[0,1089.9,1230.5,2406.7,2479],"nice":false,"zero":false},"axis":null},"text":{"field":"infra"}}},
{"transform":[{"filter":"datum.n == 2"}],"mark":{"type":"text","font":"Liberation Serif","fontWeight":"bold","fontStyle":"normal","fontSize":29.5,"color":"black","align":"left","baseline":"middle","yOffset":-20,"dx":82.8},"encoding":{"x":{"datum":-20.846,"type":"quantitative","scale":{"domain":[0,100],"range":[513,1813],"nice":false,"zero":false},"axis":null},"y":{"field":"n","type":"quantitative","scale":{"domain":[0,9,10,19,19.55],"range":[0,1089.9,1230.5,2406.7,2479],"nice":false,"zero":false},"axis":null},"text":{"field":"rank"}}},
{"transform":[{"filter":"datum.n == 7"}],"mark":{"type":"text","font":"Liberation Serif","fontWeight":"bold","fontStyle":"normal","fontSize":29.5,"color":"black","align":"left","baseline":"middle","yOffset":-20,"dx":25.4},"encoding":{"x":{"datum":-20.846,"type":"quantitative","scale":{"domain":[0,100],"range":[513,1813],"nice":false,"zero":false},"axis":null},"y":{"field":"n","type":"quantitative","scale":{"domain":[0,9,10,19,19.55],"range":[0,1089.9,1230.5,2406.7,2479],"nice":false,"zero":false},"axis":null},"text":{"field":"rank"}}},
{"transform":[{"filter":"datum.n == 3"}],"mark":{"type":"text","font":"Liberation Serif","fontWeight":"bold","fontStyle":"italic","fontSize":29.5,"color":"black","align":"right","baseline":"middle","yOffset":-27,"dx":84.8},"encoding":{"x":{"datum":-20.846,"type":"quantitative","scale":{"domain":[0,100],"range":[513,1813],"nice":false,"zero":false},"axis":null},"y":{"field":"n","type":"quantitative","scale":{"domain":[0,9,10,19,19.55],"range":[0,1089.9,1230.5,2406.7,2479],"nice":false,"zero":false},"axis":null},"text":{"field":"taxon"}}},
{"transform":[{"filter":"datum.n == 3"}],"mark":{"type":"text","font":"Liberation Serif","fontWeight":"bold","fontStyle":"normal","fontSize":29.5,"color":"black","align":"left","baseline":"middle","yOffset":-27,"dx":92.2},"encoding":{"x":{"datum":-20.846,"type":"quantitative","scale":{"domain":[0,100],"range":[513,1813],"nice":false,"zero":false},"axis":null},"y":{"field":"n","type":"quantitative","scale":{"domain":[0,9,10,19,19.55],"range":[0,1089.9,1230.5,2406.7,2479],"nice":false,"zero":false},"axis":null},"text":{"field":"rank"}}},
{"transform":[{"filter":"datum.n == 3"}],"mark":{"type":"text","font":"Liberation Serif","fontWeight":"bold","fontStyle":"italic","fontSize":29.5,"color":"black","align":"center","baseline":"middle","yOffset":6.3},"encoding":{"x":{"datum":-20.846,"type":"quantitative","scale":{"domain":[0,100],"range":[513,1813],"nice":false,"zero":false},"axis":null},"y":{"field":"n","type":"quantitative","scale":{"domain":[0,9,10,19,19.55],"range":[0,1089.9,1230.5,2406.7,2479],"nice":false,"zero":false},"axis":null},"text":{"field":"infra"}}}
]
}
